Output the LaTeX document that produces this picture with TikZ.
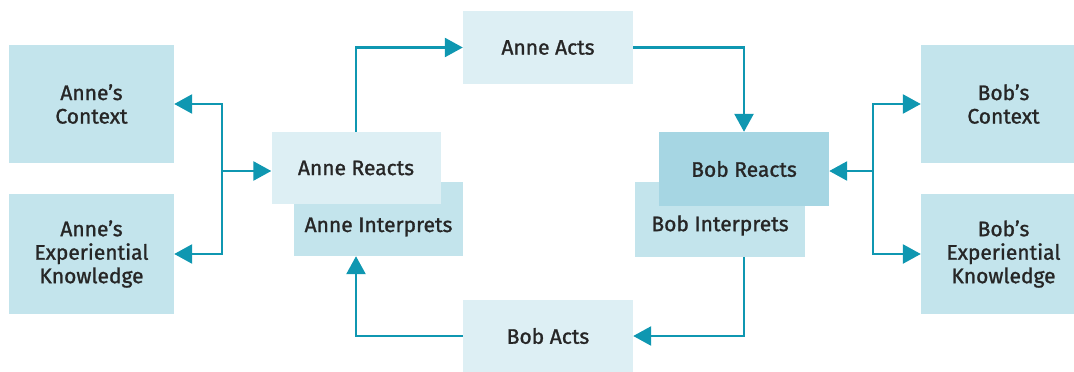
\documentclass[tikz,border=0pt]{standalone}
\usepackage{fontspec}
\setmainfont{Fira Sans}[FakeBold=1.2]
\usetikzlibrary{arrows.meta}
\definecolor{boxblue}{HTML}{C3E4EC}
\definecolor{palebox}{HTML}{DDEFF4}
\definecolor{darkbox}{HTML}{A6D6E3}
\definecolor{flowteal}{HTML}{0F97B1}

\begin{document}
\begin{tikzpicture}[x=1pt,y=-1pt,
  box/.style={fill=boxblue, inner sep=0pt, align=center, text=black!85,
    font=\fontsize{21}{23.5}\selectfont},
  flow/.style={draw=flowteal, line width=2.6pt, -{Triangle[length=18pt,width=19pt]}}]
\useasboundingbox (0,0) rectangle (1074,372);

\node[box, minimum width=165pt, minimum height=118pt] (ac) at (91.5,104) {Anne’s\\Context};
\node[box, minimum width=165pt, minimum height=120pt] (ae) at (91.5,254) {Anne’s\\Experiential\\Knowledge};

\node[box, minimum width=169pt, minimum height=74pt] (ai) at (378.5,219) {\raisebox{-8pt}[\height][\depth]{Anne Interprets}};
\node[box, fill=palebox, minimum width=169pt, minimum height=72pt] (ar) at (356,168) {Anne Reacts};

\node[box, fill=palebox, minimum width=170pt, minimum height=73pt] (aa) at (548,47.5) {Anne Acts};
\node[box, fill=palebox, minimum width=170pt, minimum height=72pt] (ba) at (548,336) {Bob Acts};

\node[box, minimum width=170pt, minimum height=75pt] (bi) at (720,219.5) {\raisebox{-6pt}[\height][\depth]{Bob Interprets}};
\node[box, fill=darkbox, minimum width=170pt, minimum height=74pt] (br) at (744,169) {Bob Reacts};

\node[box, minimum width=165pt, minimum height=118pt] (bc) at (1003.5,104) {Bob’s\\Context};
\node[box, minimum width=165pt, minimum height=120pt] (be) at (1003.5,254) {Bob’s\\Experiential\\Knowledge};

\coordinate (ja) at (222,171);
\coordinate (jb) at (873,171);

\draw[flow] (ja) -- (ja -| ar.west);
\draw[flow] (ja) |- (ac.east);
\draw[flow] (ja) |- (ae.east);

\draw[flow] (jb) -- (jb -| br.east);
\draw[flow] (jb) |- (bc.west);
\draw[flow] (jb) |- (be.west);

\draw[flow] (ar.north) |- (aa.west);
\draw[flow] (aa.east) -| (br.north);
\draw[flow] (bi.south -| br.north) |- (ba.east);
\draw[flow] (ba.west) -| (ai.south -| ar.north);
\end{tikzpicture}
\end{document}
